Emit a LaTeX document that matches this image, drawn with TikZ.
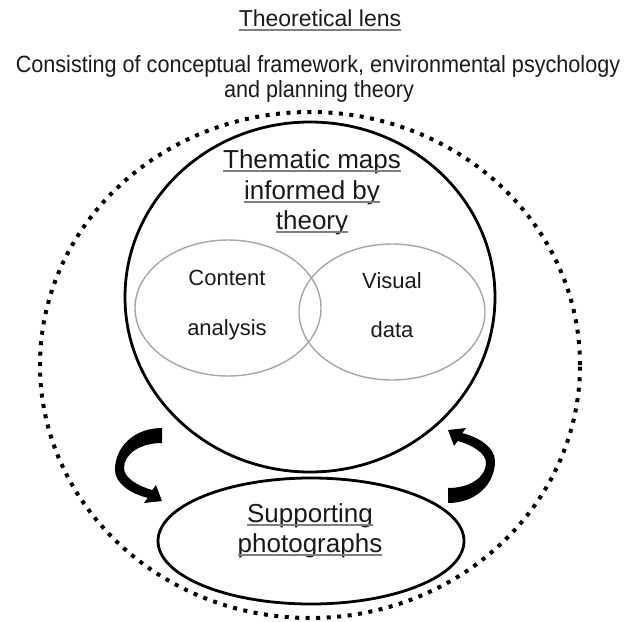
\documentclass[tikz,border=0pt]{standalone}
\usepackage{fontspec}
\setmainfont{Liberation Sans}
\newfontfamily\condfont[FakeStretch=0.92]{Liberation Sans}
\usetikzlibrary{shapes.geometric}
\definecolor{ulgray}{HTML}{7F7F7F}
\definecolor{venngray}{HTML}{A6A6A6}
\definecolor{txt}{HTML}{1A1A1A}
\newcommand\ulnode[1]{\draw[ulgray, line width=1.8pt] ([yshift=-3pt]#1.base west) -- ([yshift=-3pt]#1.base east);}
\begin{document}
\begin{tikzpicture}[x=1pt,y=-1pt,
  lbl/.style={inner sep=0pt, anchor=base, text=txt},
  bigf/.style={font=\fontsize{26pt}{31pt}\selectfont},
  midf/.style={font=\fontsize{22pt}{26pt}\selectfont},
  topf/.style={font=\condfont\fontsize{23.5pt}{26pt}\selectfont},
  solidring/.style={draw=black, line width=2.8pt, ellipse, inner sep=0pt},
  vennring/.style={draw=venngray, line width=1.4pt, ellipse, inner sep=0pt},
  dotring/.style={draw=black, line width=4pt, dash pattern=on 4pt off 6.5pt, ellipse, inner sep=0pt},
  bendarrow/.pic={
    \fill[black] (22,-38) .. controls (-5,-38) and (-25,-20) .. (-25,4)
      .. controls (-25,18) and (-8,28) .. (7.7,31.9)
      -- (4,37) -- (22,35) -- (16,19) -- (12.3,24.1)
      .. controls (-2,20) and (-16,12) .. (-16,2)
      .. controls (-16,-12) and (0,-23) .. (22,-23) -- cycle;
  }]
\useasboundingbox (0,0) rectangle (634,621);

% outer dotted boundary (theoretical lens)
\node[dotring, minimum width=540pt, minimum height=506pt] (lens) at (310,365) {};

% thematic maps circle
\node[solidring, minimum width=370pt, minimum height=350pt] (thematic) at (310,297) {};

% Venn ellipses
\node[vennring, minimum width=186pt, minimum height=136pt] (content) at (228,308) {};
\node[vennring, minimum width=186pt, minimum height=136pt] (visual) at (392,312) {};

% supporting photographs ellipse
\node[solidring, minimum width=306pt, minimum height=126pt] (photos) at (311,541) {};

% top texts
\node[lbl, font=\fontsize{23pt}{26pt}\selectfont] (title) at (320,27) {Theoretical lens};
\ulnode{title}
\node[lbl, topf] (desc1) at (318,72) {Consisting of conceptual framework, environmental psychology};
\node[lbl, topf] (desc2) at (319,97) {and planning theory};

% thematic maps label
\node[lbl, bigf] (tm1) at (312,168) {Thematic maps};
\node[lbl, bigf] (tm2) at (312,199) {informed by};
\node[lbl, bigf] (tm3) at (312,229) {theory};
\ulnode{tm1}\ulnode{tm2}\ulnode{tm3}

% Venn labels
\node[lbl, midf] (ca1) at (227,285) {Content};
\node[lbl, midf] (ca2) at (227,335) {analysis};
\node[lbl, midf] (vd1) at (392,288) {Visual};
\node[lbl, midf] (vd2) at (392,337) {data};

% supporting photographs label
\node[lbl, bigf] (sp1) at (310,522) {Supporting};
\node[lbl, bigf] (sp2) at (310,552) {photographs};
\ulnode{sp1}\ulnode{sp2}

% curved arrows
\pic (leftarrow) at (140,466) {bendarrow};
\pic[rotate=180] (rightarrow) at (470,465) {bendarrow};
\end{tikzpicture}
\end{document}
